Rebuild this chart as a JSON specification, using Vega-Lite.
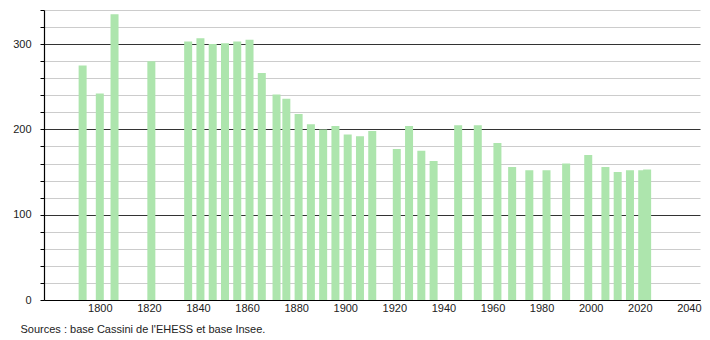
{
  "$schema": "https://vega.github.io/schema/vega-lite/v6.json",
  "autosize": "none",
  "width": 656,
  "height": 290,
  "padding": {"left": 44, "top": 10, "right": 10, "bottom": 40},
  "background": "white",
  "config": {
    "view": {"stroke": null},
    "font": "Liberation Sans",
    "axis": {"labelFont": "Liberation Sans", "labelFontSize": 11, "labelColor": "#222", "titleFont": "Liberation Sans"}
  },
  "data": {
    "values": [
      {"year": 1793, "pop": 275},
      {"year": 1800, "pop": 242},
      {"year": 1806, "pop": 335},
      {"year": 1821, "pop": 280},
      {"year": 1836, "pop": 303},
      {"year": 1841, "pop": 307},
      {"year": 1846, "pop": 300},
      {"year": 1851, "pop": 301},
      {"year": 1856, "pop": 303},
      {"year": 1861, "pop": 305},
      {"year": 1866, "pop": 266},
      {"year": 1872, "pop": 241},
      {"year": 1876, "pop": 236},
      {"year": 1881, "pop": 218},
      {"year": 1886, "pop": 206},
      {"year": 1891, "pop": 200},
      {"year": 1896, "pop": 204},
      {"year": 1901, "pop": 194},
      {"year": 1906, "pop": 192},
      {"year": 1911, "pop": 198},
      {"year": 1921, "pop": 177},
      {"year": 1926, "pop": 204},
      {"year": 1931, "pop": 175},
      {"year": 1936, "pop": 163},
      {"year": 1946, "pop": 205},
      {"year": 1954, "pop": 205},
      {"year": 1962, "pop": 184},
      {"year": 1968, "pop": 156},
      {"year": 1975, "pop": 152},
      {"year": 1982, "pop": 152},
      {"year": 1990, "pop": 160},
      {"year": 1999, "pop": 170},
      {"year": 2006, "pop": 156},
      {"year": 2011, "pop": 150},
      {"year": 2016, "pop": 152},
      {"year": 2021, "pop": 152},
      {"year": 2023, "pop": 153}
    ]
  },
  "mark": {"type": "bar", "width": 8, "color": "#ade5ad"},
  "encoding": {
    "x": {
      "field": "year",
      "type": "quantitative",
      "scale": {"domain": [1779.3, 2042.5], "nice": false, "zero": false},
      "axis": {
        "values": [1800, 1820, 1840, 1860, 1880, 1900, 1920, 1940, 1960, 1980, 2000, 2020, 2040],
        "format": "d",
        "grid": false,
        "ticks": false,
        "labelPadding": 2,
        "labelFlush": false,
        "labelOverlap": false,
        "domainColor": "#000",
        "domainWidth": 1.2,
        "title": "Sources : base Cassini de l'EHESS et base Insee.",
        "titleFontSize": 11,
        "titleFontWeight": "normal",
        "titleColor": "#222",
        "titleAnchor": "start",
        "titleAlign": "left",
        "titleBaseline": "alphabetic",
        "titleX": -24,
        "titleY": 32
      }
    },
    "y": {
      "field": "pop",
      "type": "quantitative",
      "scale": {"domain": [0, 340], "nice": false},
      "axis": {
        "values": [0, 20, 40, 60, 80, 100, 120, 140, 160, 180, 200, 220, 240, 260, 280, 300, 320, 340],
        "labelExpr": "datum.value % 100 === 0 ? datum.label : ''",
        "gridColor": {"condition": {"test": "datum.value % 100 === 0", "value": "#333"}, "value": "#cccccc"},
        "gridWidth": 1,
        "tickSize": 4,
        "tickColor": "#000",
        "labelPadding": 9,
        "domainColor": "#000",
        "domainWidth": 1.2,
        "title": null
      }
    }
  }
}
